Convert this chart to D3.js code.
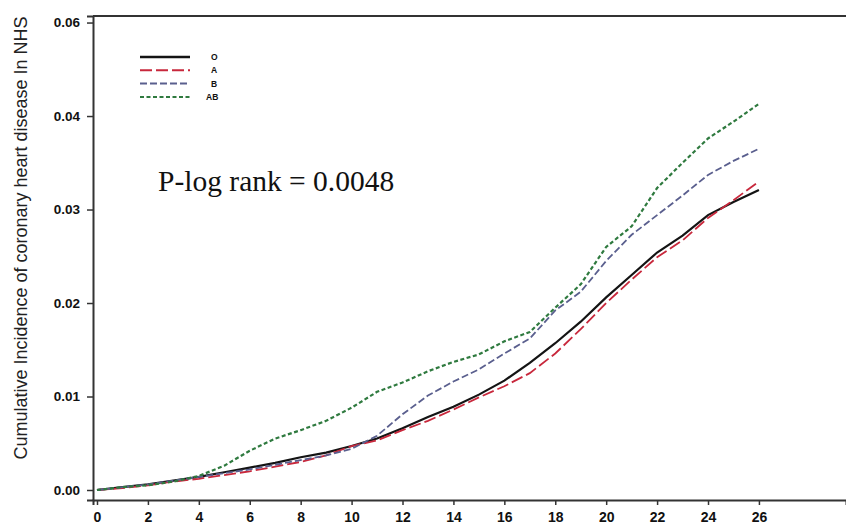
<!DOCTYPE html>
<html>
<head>
<meta charset="utf-8">
<script src="https://cdn.jsdelivr.net/npm/d3@7"></script>
<style>
  body { margin: 0; background: #fff; }
  svg { display: block; }
</style>
</head>
<body>
<svg></svg>
<script>
const years = [0, 1, 2, 3, 4, 5, 6, 7, 8, 9, 10, 11, 12, 13, 14, 15, 16, 17, 18, 19, 20, 21, 22, 23, 24, 25, 26];

const groupO  = [0, 0.0003, 0.0006, 0.0010, 0.0014, 0.0019, 0.0024, 0.0029, 0.0035, 0.0040, 0.0047, 0.0055, 0.0066, 0.0078, 0.0089, 0.0102, 0.0117, 0.0136, 0.0157, 0.0180, 0.0206, 0.0230, 0.0254, 0.0272, 0.0294, 0.0308, 0.0321];
const groupA  = [0, 0.0002, 0.0005, 0.0009, 0.0012, 0.0016, 0.0020, 0.0025, 0.0030, 0.0037, 0.0047, 0.0053, 0.0064, 0.0074, 0.0086, 0.0099, 0.0111, 0.0125, 0.0146, 0.0172, 0.0200, 0.0225, 0.0249, 0.0267, 0.0291, 0.0310, 0.0330];
const groupB  = [0, 0.0003, 0.0006, 0.0010, 0.0014, 0.0018, 0.0022, 0.0027, 0.0032, 0.0037, 0.0044, 0.0058, 0.0081, 0.0101, 0.0116, 0.0129, 0.0146, 0.0162, 0.0192, 0.0212, 0.0245, 0.0273, 0.0294, 0.0315, 0.0337, 0.0352, 0.0365];
const groupAB = [0, 0.0003, 0.0005, 0.0009, 0.0015, 0.0026, 0.0042, 0.0055, 0.0064, 0.0074, 0.0088, 0.0105, 0.0115, 0.0127, 0.0137, 0.0145, 0.0159, 0.0169, 0.0195, 0.0220, 0.0260, 0.0282, 0.0323, 0.0350, 0.0376, 0.0394, 0.0413];

const seriesNames = ["O", "A", "B", "AB"];
const xTicks = [0, 2, 4, 6, 8, 10, 12, 14, 16, 18, 20, 22, 24, 26];
const yTicks = [0, 0.01, 0.02, 0.03, 0.04, 0.05];
const yTickLabels = ["0.00", "0.01", "0.02", "0.03", "0.04", "0.06"];

const width = 846, height = 528;
const plotLeft = 93, plotTop = 16, plotBottom = 500, plotRight = 846;

const svg = d3.select("svg")
  .attr("width", width)
  .attr("height", height);

const x = d3.scaleLinear().domain([-0.157, 29.42]).range([plotLeft, plotRight]);
const y = d3.scaleLinear().domain([-0.00107, 0.0507]).range([plotBottom, plotTop]);

const styles = [
  { color: "#141414", dash: null, w: 2.2 },
  { color: "#c8283c", dash: "12,4", w: 1.8 },
  { color: "#5a5f8e", dash: "7,3", w: 1.8 },
  { color: "#2f7a3f", dash: "4,2.5", w: 2.2 }
];
const allSeries = [groupO, groupA, groupB, groupAB];

// frame top line
svg.append("line")
  .attr("x1", plotLeft).attr("x2", plotRight)
  .attr("y1", plotTop).attr("y2", plotTop)
  .attr("stroke", "#333").attr("stroke-width", 2);

// axes
const tickFont = "'Liberation Sans Narrow', 'Liberation Sans', Arial, sans-serif";

const xAxis = svg.append("g")
  .attr("transform", `translate(0,${plotBottom})`)
  .call(d3.axisBottom(x).tickValues(xTicks).tickSize(5).tickPadding(7).tickFormat(d3.format("d")));
xAxis.select(".domain").attr("stroke", "#333").attr("stroke-width", 2);
xAxis.selectAll(".tick line").attr("stroke", "#333").attr("stroke-width", 1.5);
xAxis.selectAll("text")
  .style("font-family", tickFont).style("font-weight", "bold")
  .style("font-size", "14px").attr("fill", "#111");

const yAxis = svg.append("g")
  .attr("transform", `translate(${plotLeft},0)`)
  .call(d3.axisLeft(y).tickValues(yTicks).tickSize(6).tickPadding(7)
    .tickFormat((d, i) => yTickLabels[i]));
yAxis.select(".domain").attr("stroke", "#333").attr("stroke-width", 2);
yAxis.selectAll(".tick line").attr("stroke", "#333").attr("stroke-width", 1.5);
yAxis.selectAll("text")
  .style("font-family", tickFont).style("font-weight", "bold")
  .style("font-size", "13.5px").attr("fill", "#111");

// y title
svg.append("text")
  .attr("transform", "translate(27,238) rotate(-90)")
  .attr("text-anchor", "middle")
  .style("font-family", "'Liberation Sans', Arial, sans-serif")
  .style("font-size", "18px")
  .attr("fill", "#222")
  .text("Cumulative Incidence of coronary heart disease In NHS");

// curves
const line = d3.line()
  .x((d, i) => x(years[i]))
  .y(d => y(d));

allSeries.forEach((s, k) => {
  svg.append("path")
    .datum(s)
    .attr("fill", "none")
    .attr("stroke", styles[k].color)
    .attr("stroke-width", styles[k].w)
    .attr("stroke-dasharray", styles[k].dash)
    .attr("d", line);
});

// legend
const legend = svg.append("g");
seriesNames.forEach((n, k) => {
  const ly = 57 + k * 13.3;
  legend.append("line")
    .attr("x1", 140).attr("x2", 190)
    .attr("y1", ly).attr("y2", ly)
    .attr("stroke", styles[k].color)
    .attr("stroke-width", k === 0 ? 2.6 : 2)
    .attr("stroke-dasharray", styles[k].dash);
  legend.append("text")
    .attr("x", k === 3 ? 206 : 211)
    .attr("y", ly + 3)
    .style("font-family", tickFont).style("font-weight", "bold")
    .style("font-size", "8.5px").attr("fill", "#111")
    .text(n);
});

// p-value annotation
svg.append("text")
  .attr("x", 158).attr("y", 191)
  .style("font-family", "'Liberation Serif', 'Times New Roman', serif")
  .style("font-size", "29.5px")
  .attr("fill", "#111")
  .text("P-log rank = 0.0048");
</script>
</body>
</html>
